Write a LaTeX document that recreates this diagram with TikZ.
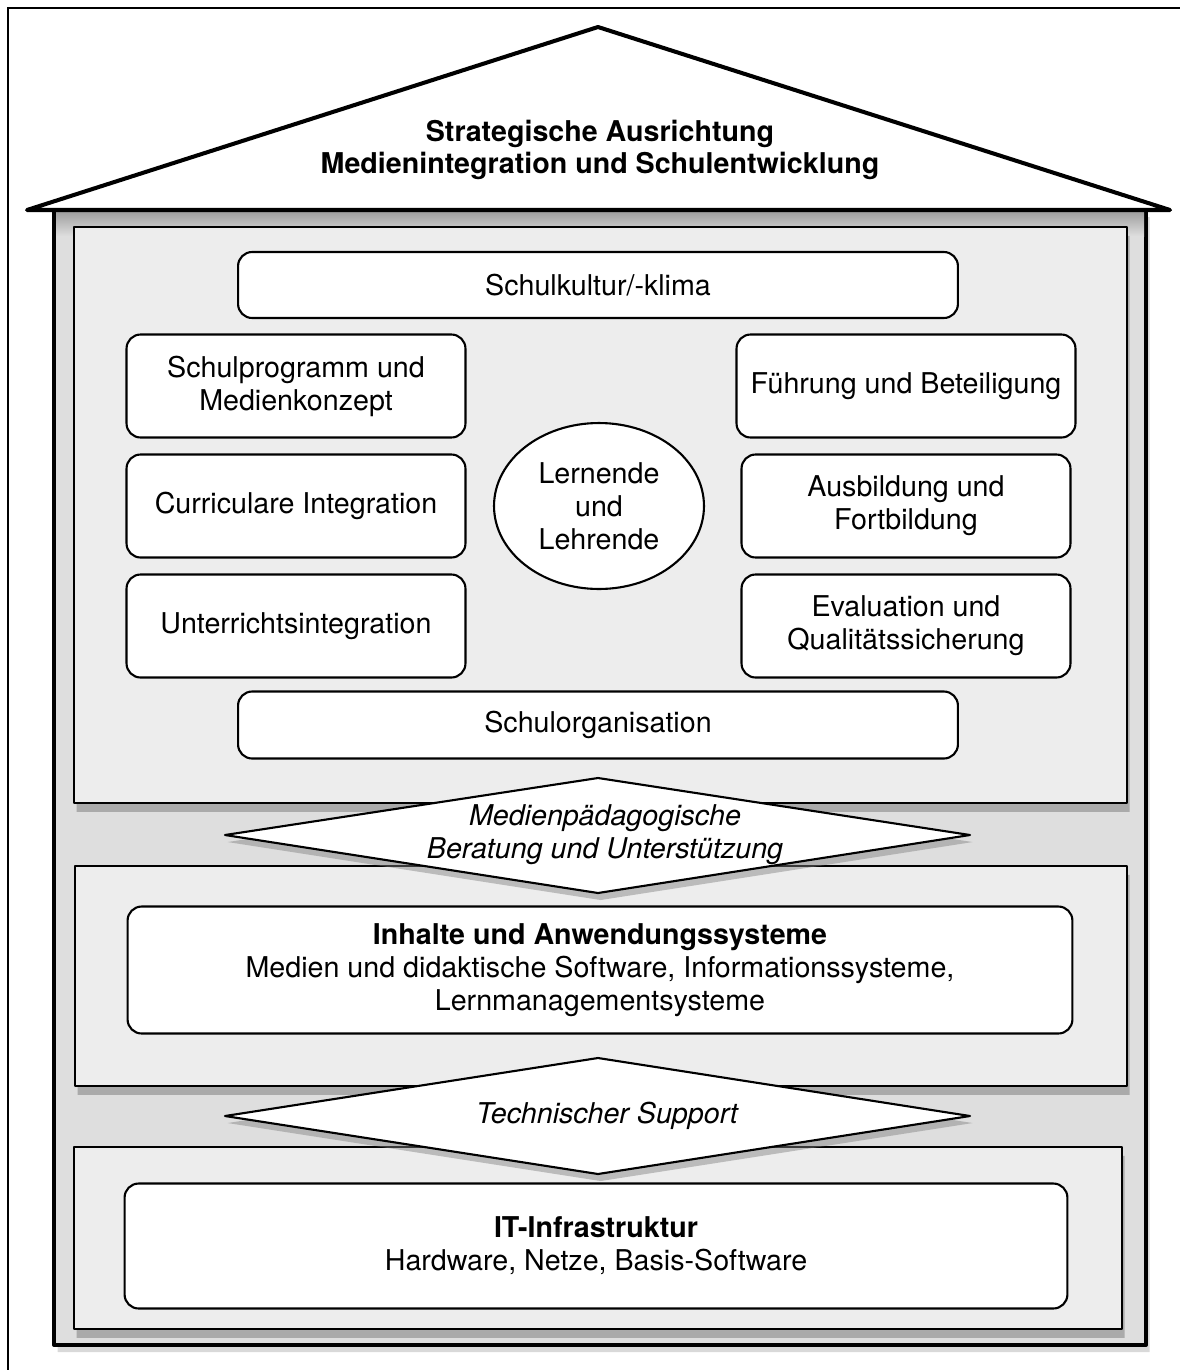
\documentclass[tikz,border=0pt]{standalone}
\usepackage{fontspec}
\setmainfont{TeX Gyre Heros}
\usepackage{tkz-euclide}
\usetikzlibrary{shadows,shapes.geometric}

\definecolor{panelgray}{gray}{0.93}
\definecolor{bandgray}{gray}{0.87}

\tikzset{
  txt/.style={font=\fontsize{16.3}{18.7}\selectfont, align=center},
  box/.style={txt, draw=black, line width=1.2pt, rounded corners=8pt, fill=white, inner sep=0pt},
  panel/.style={draw=black, line width=1.2pt, fill=panelgray,
    drop shadow={shadow xshift=1.5pt, shadow yshift=-5pt, opacity=.55}},
  rhomb/.style={draw=black, line width=1.2pt, fill=white,
    drop shadow={shadow xshift=1.5pt, shadow yshift=-4pt, opacity=.45}}
}

\begin{document}
\begin{tikzpicture}[x=0.02cm, y=-0.02cm]
    \useasboundingbox (0,0) rectangle (1180,1370);
    \tkzDefPoints{8/1370/F1, 8/8/F2, 1180/8/F3}
    \draw[line width=1.2pt] (F1) -- (F2) -- (F3);

    % house body and roof
    \tkzDefPoints{54/210/H1, 1146/210/H2, 1146/1345/H3, 54/1345/H4}
    \tkzDrawPolygon[line width=2.3pt, fill=bandgray,
      drop shadow={shadow xshift=2pt, shadow yshift=-4pt, opacity=.3}](H1,H2,H3,H4)
    \shade[top color=gray!75, bottom color=bandgray] (56,212) rectangle (1144,236);
    \tkzDefPoints{27/210/R1, 598/27/R2, 1170/210/R3}
    \tkzDrawPolygon[line width=2.3pt, fill=white](R1,R2,R3)
    \node[txt, font=\fontsize{16.3}{18.7}\selectfont\bfseries] (roof) at (600,150)
      {Strategische Ausrichtung\\Medienintegration und Schulentwicklung};

    % panels
    \tkzDefPoints{74/227/A1, 1127/227/A2, 1127/803/A3, 74/803/A4}
    \tkzDefPoints{75/866/B1, 1127/866/B2, 1127/1086/B3, 75/1086/B4}
    \tkzDefPoints{74/1147/C1, 1122/1147/C2, 1122/1329/C3, 74/1329/C4}
    \tkzDrawPolygon[panel](A1,A2,A3,A4)
    \tkzDrawPolygon[panel](B1,B2,B3,B4)
    \tkzDrawPolygon[panel](C1,C2,C3,C4)

    % upper panel
    \node[box, minimum width=14.4cm, minimum height=1.32cm] (kultur) at (598,285) {Schulkultur/-klima};
    \node[box, minimum width=6.78cm, minimum height=2.06cm] (programm) at (296,386) {Schulprogramm und\\Medienkonzept};
    \node[box, minimum width=6.78cm, minimum height=2.06cm] (curri) at (296,506) {Curriculare Integration};
    \node[box, minimum width=6.78cm, minimum height=2.06cm] (unterricht) at (296,626) {Unterrichtsintegration};
    \node[box, minimum width=6.78cm, minimum height=2.06cm] (fuehrung) at (906,386) {Führung und Beteiligung};
    \node[box, minimum width=6.58cm, minimum height=2.06cm] (ausbildung) at (906,506) {Ausbildung und\\Fortbildung};
    \node[box, minimum width=6.58cm, minimum height=2.06cm] (evaluation) at (906,626) {Evaluation und\\Qualitätssicherung};
    \node[box, minimum width=14.4cm, minimum height=1.34cm] (organisation) at (598,725) {Schulorganisation};
    \node[txt, draw=black, line width=1.2pt, fill=white, ellipse, inner sep=0pt,
      minimum width=4.2cm, minimum height=3.32cm] (lernende) at (599,506) {Lernende\\und\\Lehrende};

    % support diamonds
    \tkzDefPoints{225/835/D1, 598/778/D2, 970/835/D3, 598/893/D4}
    \tkzDrawPolygon[rhomb](D1,D2,D3,D4)
    \node[txt, font=\fontsize{16.3}{18.7}\selectfont\itshape] (beratung) at (605,835)
      {Medienpädagogische\\Beratung und Unterstützung};
    \tkzDefPoints{225/1116/E1, 598/1058/E2, 970/1116/E3, 598/1174/E4}
    \tkzDrawPolygon[rhomb](E1,E2,E3,E4)
    \node[txt, font=\fontsize{16.3}{18.7}\selectfont\itshape] (support) at (607,1116) {Technischer Support};

    % lower panels
    \node[box, minimum width=18.9cm, minimum height=2.54cm] (inhalte) at (600,970)
      {\textbf{Inhalte und Anwendungssysteme}\\Medien und didaktische Software, Informationssysteme,\\Lernmanagementsysteme};
    \node[box, minimum width=18.86cm, minimum height=2.5cm] (infra) at (596,1246)
      {\textbf{IT-Infrastruktur}\\Hardware, Netze, Basis-Software};
\end{tikzpicture}
\end{document}
